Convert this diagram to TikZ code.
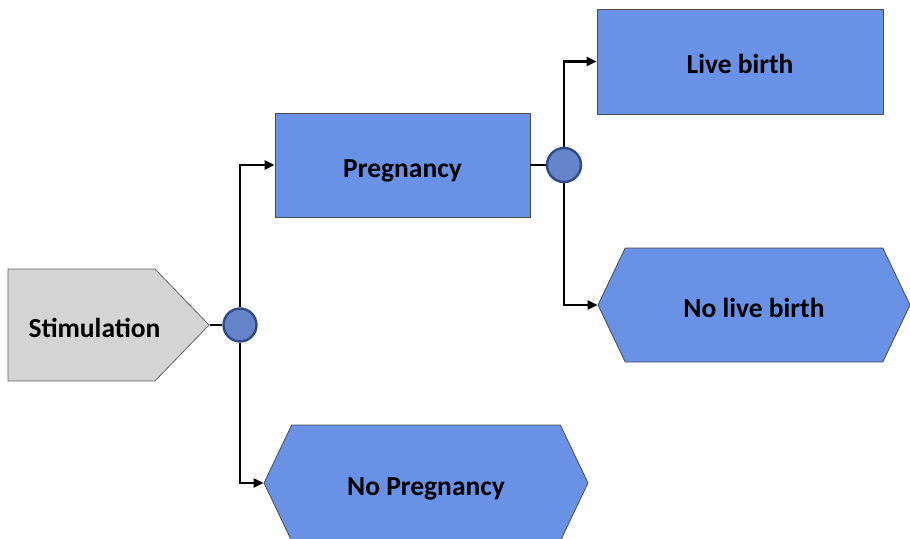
\documentclass[tikz,border=0pt]{standalone}
\usepackage{fontspec}
\setmainfont{Carlito}
\usetikzlibrary{shapes.symbols,arrows.meta}
\definecolor{boxblue}{HTML}{6991E6}
\definecolor{dotblue}{HTML}{6584C9}
\definecolor{dotedge}{HTML}{2F4A86}
\tikzset{Box Style/.style={draw=black!70, line width=0.8pt, fill=boxblue, inner sep=0pt,
    text height=24pt, text depth=0pt, font=\fontsize{27.5}{33}\selectfont\bfseries},
  Hex Style/.style={Box Style, signal, signal to=east and west, signal pointer angle=129},
  Chance Style/.style={circle, draw=dotedge, line width=2.4pt, fill=dotblue, inner sep=0pt},
  Link Style/.style={line width=2.2pt, -{Triangle[length=10pt,width=9pt]}}}

\begin{document}
\begin{tikzpicture}[x=1pt,y=-1pt]
	\useasboundingbox (0,0) rectangle (910,538);
	
	\node[Box Style, fill=black!17, draw=black!60, signal, signal to=east, signal pointer angle=92,
	minimum width=201pt, minimum height=112pt] (stim) at (81.5,325)
	{\kern13pt\rlap{Stimulation}\phantom{Stimulation}\kern-13pt};
	\node[Chance Style, minimum size=33pt] (c1) at (240,325) {};
	\node[Box Style, minimum width=255pt, minimum height=104pt] (preg) at (402.5,165) {Pregnancy};
	\node[Hex Style, minimum width=324pt, minimum height=116pt] (nopreg) at (426,483) {No Pregnancy};
	\node[Chance Style, minimum size=34pt] (c2) at (564,165) {};
	\node[Box Style, minimum width=286pt, minimum height=105pt] (live) at (740,61.5) {Live birth};
	\node[Hex Style, minimum width=312pt, minimum height=114pt] (nolive) at (754,305) {No live birth};
	
	\draw[line width=2.2pt] (stim.east) -- (c1.west);
	\draw[Link Style] (c1.north) |- (preg.west);
	\draw[Link Style] (c1.south) |- (nopreg.west);
	\draw[line width=2.2pt] (preg.east) -- (c2.west);
	\draw[Link Style] (c2.north) |- (live.west);
	\draw[Link Style] (c2.south) |- (nolive.west);
\end{tikzpicture}
\end{document}
